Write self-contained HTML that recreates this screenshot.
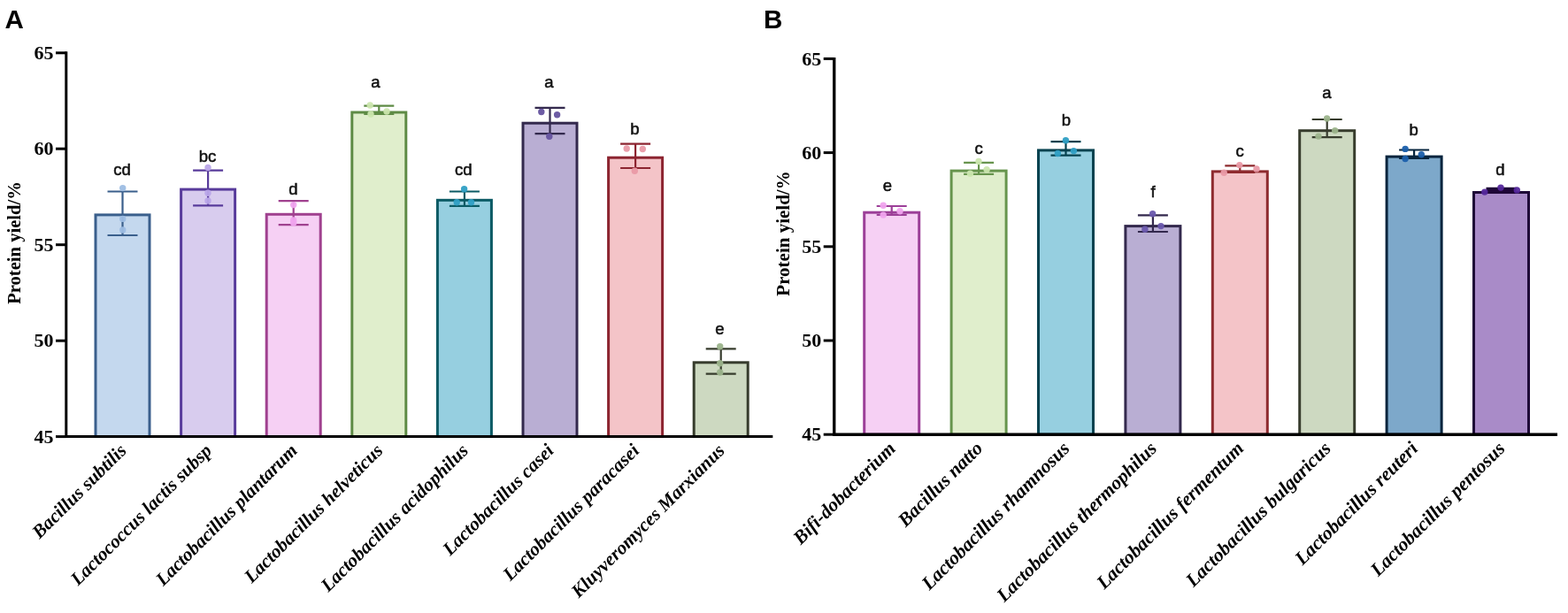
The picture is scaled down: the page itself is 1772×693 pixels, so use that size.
<!DOCTYPE html>
<html><head><meta charset="utf-8"><style>
html,body{margin:0;padding:0;background:#fff;}
svg{display:block;filter:blur(0.35px);}
</style></head><body>
<svg width="1772" height="693" viewBox="0 0 1772 693">
<rect width="1772" height="693" fill="#fff"/>
<text x="5.5" y="31.5" font-family="'Liberation Sans',Arial,sans-serif" font-weight="bold" font-size="29.5" fill="#000">A</text>
<text x="863" y="31.5" font-family="'Liberation Sans',Arial,sans-serif" font-weight="bold" font-size="29.5" fill="#000">B</text>
<rect x="108.0" y="242.9" width="61.0" height="250.7" fill="#c4d8ee" stroke="#3a5f8c" stroke-width="3"/>
<path d="M121.5 216.5H155.5M121.5 266.0H155.5M138.5 216.5V266.0" stroke="#3a5f8c" stroke-width="2.2" fill="none"/>
<circle cx="138.7" cy="212.6" r="3.7" fill="#9dbde3" fill-opacity="0.95"/>
<circle cx="138.7" cy="247.4" r="3.7" fill="#9dbde3" fill-opacity="0.95"/>
<circle cx="138.7" cy="260.0" r="3.7" fill="#9dbde3" fill-opacity="0.95"/>
<text x="138.0" y="198.0" text-anchor="middle" font-family="'Liberation Sans',Arial,sans-serif" font-size="18.5" fill="#111" stroke="#111" stroke-width="0.55">cd</text>
<text x="144.0" y="510.6" text-anchor="end" transform="rotate(-45 144.0 510.6)" font-family="'Liberation Serif','Times New Roman',serif" font-weight="bold" font-style="italic" font-size="21.3" fill="#000">Bacillus subtilis</text>
<rect x="204.6" y="214.1" width="61.0" height="279.5" fill="#d8ccee" stroke="#583b9b" stroke-width="3"/>
<path d="M218.1 192.7H252.1M218.1 232.3H252.1M235.1 192.7V232.3" stroke="#583b9b" stroke-width="2.2" fill="none"/>
<circle cx="235.0" cy="189.5" r="3.7" fill="#b9a5e8" fill-opacity="0.95"/>
<circle cx="235.0" cy="218.3" r="3.7" fill="#b9a5e8" fill-opacity="0.95"/>
<circle cx="235.0" cy="227.0" r="3.7" fill="#b9a5e8" fill-opacity="0.95"/>
<text x="234.6" y="183.0" text-anchor="middle" font-family="'Liberation Sans',Arial,sans-serif" font-size="18.5" fill="#111" stroke="#111" stroke-width="0.55">bc</text>
<text x="240.6" y="510.6" text-anchor="end" transform="rotate(-45 240.6 510.6)" font-family="'Liberation Serif','Times New Roman',serif" font-weight="bold" font-style="italic" font-size="21.3" fill="#000">Lactococcus lactis subsp</text>
<rect x="301.2" y="242.3" width="61.0" height="251.3" fill="#f6d0f4" stroke="#a0418f" stroke-width="3"/>
<path d="M314.7 227.2H348.7M314.7 254.2H348.7M331.7 227.2V254.2" stroke="#a0418f" stroke-width="2.2" fill="none"/>
<circle cx="331.7" cy="231.6" r="3.7" fill="#f0a4ee" fill-opacity="0.95"/>
<circle cx="331.7" cy="248.9" r="3.7" fill="#f0a4ee" fill-opacity="0.95"/>
<circle cx="331.7" cy="252.0" r="3.7" fill="#f0a4ee" fill-opacity="0.95"/>
<text x="331.5" y="219.6" text-anchor="middle" font-family="'Liberation Sans',Arial,sans-serif" font-size="18.5" fill="#111" stroke="#111" stroke-width="0.55">d</text>
<text x="337.2" y="510.6" text-anchor="end" transform="rotate(-45 337.2 510.6)" font-family="'Liberation Serif','Times New Roman',serif" font-weight="bold" font-style="italic" font-size="21.3" fill="#000">Lactobacillus plantarum</text>
<rect x="397.8" y="127.0" width="61.0" height="366.6" fill="#e0eecc" stroke="#5e8b45" stroke-width="3"/>
<path d="M411.3 119.7H445.3M411.3 129.0H445.3M428.3 119.7V129.0" stroke="#5e8b45" stroke-width="2.2" fill="none"/>
<circle cx="418.2" cy="119.0" r="3.7" fill="#cbe6ae" fill-opacity="0.95"/>
<circle cx="419.0" cy="129.0" r="3.7" fill="#cbe6ae" fill-opacity="0.95"/>
<circle cx="437.0" cy="126.0" r="3.7" fill="#cbe6ae" fill-opacity="0.95"/>
<text x="424.4" y="98.8" text-anchor="middle" font-family="'Liberation Sans',Arial,sans-serif" font-size="18.5" fill="#111" stroke="#111" stroke-width="0.55">a</text>
<text x="433.8" y="510.6" text-anchor="end" transform="rotate(-45 433.8 510.6)" font-family="'Liberation Serif','Times New Roman',serif" font-weight="bold" font-style="italic" font-size="21.3" fill="#000">Lactobacillus helveticus</text>
<rect x="494.4" y="226.3" width="61.0" height="267.3" fill="#96cfe0" stroke="#0a5a64" stroke-width="3"/>
<path d="M507.9 216.5H541.9M507.9 232.8H541.9M524.9 216.5V232.8" stroke="#0a5a64" stroke-width="2.2" fill="none"/>
<circle cx="524.6" cy="213.8" r="3.7" fill="#2f9fc4" fill-opacity="0.95"/>
<circle cx="516.2" cy="228.8" r="3.7" fill="#2f9fc4" fill-opacity="0.95"/>
<circle cx="532.5" cy="228.8" r="3.7" fill="#2f9fc4" fill-opacity="0.95"/>
<text x="523.7" y="198.0" text-anchor="middle" font-family="'Liberation Sans',Arial,sans-serif" font-size="18.5" fill="#111" stroke="#111" stroke-width="0.55">cd</text>
<text x="530.4" y="510.6" text-anchor="end" transform="rotate(-45 530.4 510.6)" font-family="'Liberation Serif','Times New Roman',serif" font-weight="bold" font-style="italic" font-size="21.3" fill="#000">Lactobacillus acidophilus</text>
<rect x="591.0" y="139.2" width="61.0" height="354.4" fill="#b9aed3" stroke="#33294d" stroke-width="3"/>
<path d="M604.5 121.8H638.5M604.5 151.1H638.5M621.5 121.8V151.1" stroke="#33294d" stroke-width="2.2" fill="none"/>
<circle cx="611.8" cy="126.5" r="3.7" fill="#65539f" fill-opacity="0.95"/>
<circle cx="629.6" cy="129.8" r="3.7" fill="#65539f" fill-opacity="0.95"/>
<circle cx="620.8" cy="154.3" r="3.7" fill="#65539f" fill-opacity="0.95"/>
<text x="620.5" y="98.8" text-anchor="middle" font-family="'Liberation Sans',Arial,sans-serif" font-size="18.5" fill="#111" stroke="#111" stroke-width="0.55">a</text>
<text x="627.0" y="510.6" text-anchor="end" transform="rotate(-45 627.0 510.6)" font-family="'Liberation Serif','Times New Roman',serif" font-weight="bold" font-style="italic" font-size="21.3" fill="#000">Lactobacillus casei</text>
<rect x="687.6" y="178.2" width="61.0" height="315.4" fill="#f4c4c8" stroke="#8c2430" stroke-width="3"/>
<path d="M701.1 162.6H735.1M701.1 190.0H735.1M718.1 162.6V190.0" stroke="#8c2430" stroke-width="2.2" fill="none"/>
<circle cx="708.2" cy="168.0" r="3.7" fill="#e99aa6" fill-opacity="0.95"/>
<circle cx="726.3" cy="168.5" r="3.7" fill="#e99aa6" fill-opacity="0.95"/>
<circle cx="717.3" cy="193.3" r="3.7" fill="#e99aa6" fill-opacity="0.95"/>
<text x="717.3" y="152.2" text-anchor="middle" font-family="'Liberation Sans',Arial,sans-serif" font-size="18.5" fill="#111" stroke="#111" stroke-width="0.55">b</text>
<text x="723.6" y="510.6" text-anchor="end" transform="rotate(-45 723.6 510.6)" font-family="'Liberation Serif','Times New Roman',serif" font-weight="bold" font-style="italic" font-size="21.3" fill="#000">Lactobacillus paracasei</text>
<rect x="784.2" y="409.8" width="61.0" height="83.8" fill="#cdd9c1" stroke="#373c2d" stroke-width="3"/>
<path d="M797.7 394.3H831.7M797.7 422.7H831.7M814.7 394.3V422.7" stroke="#373c2d" stroke-width="2.2" fill="none"/>
<circle cx="813.7" cy="391.7" r="3.7" fill="#9cb48c" fill-opacity="0.95"/>
<circle cx="813.7" cy="410.8" r="3.7" fill="#9cb48c" fill-opacity="0.95"/>
<circle cx="813.7" cy="421.0" r="3.7" fill="#9cb48c" fill-opacity="0.95"/>
<text x="813.5" y="377.7" text-anchor="middle" font-family="'Liberation Sans',Arial,sans-serif" font-size="18.5" fill="#111" stroke="#111" stroke-width="0.55">e</text>
<text x="820.2" y="510.6" text-anchor="end" transform="rotate(-45 820.2 510.6)" font-family="'Liberation Serif','Times New Roman',serif" font-weight="bold" font-style="italic" font-size="21.3" fill="#000">Kluyveromyces Marxianus</text>
<path d="M74.8 58.3V495.1M73.3 493.6H873.3" stroke="#000" stroke-width="3.0" fill="none"/>
<path d="M63.0 59.8H74.8" stroke="#000" stroke-width="3" fill="none"/>
<text x="60.6" y="67.0" text-anchor="end" font-family="'Liberation Serif','Times New Roman',serif" font-weight="bold" font-size="22" fill="#000">65</text>
<path d="M63.0 168.2H74.8" stroke="#000" stroke-width="3" fill="none"/>
<text x="60.6" y="175.4" text-anchor="end" font-family="'Liberation Serif','Times New Roman',serif" font-weight="bold" font-size="22" fill="#000">60</text>
<path d="M63.0 276.7H74.8" stroke="#000" stroke-width="3" fill="none"/>
<text x="60.6" y="283.9" text-anchor="end" font-family="'Liberation Serif','Times New Roman',serif" font-weight="bold" font-size="22" fill="#000">55</text>
<path d="M63.0 385.2H74.8" stroke="#000" stroke-width="3" fill="none"/>
<text x="60.6" y="392.4" text-anchor="end" font-family="'Liberation Serif','Times New Roman',serif" font-weight="bold" font-size="22" fill="#000">50</text>
<path d="M63.0 493.6H74.8" stroke="#000" stroke-width="3" fill="none"/>
<text x="60.6" y="500.8" text-anchor="end" font-family="'Liberation Serif','Times New Roman',serif" font-weight="bold" font-size="22" fill="#000">45</text>
<text x="23.0" y="274.5" text-anchor="middle" transform="rotate(-90 23.0 274.5)" font-family="'Liberation Serif','Times New Roman',serif" font-weight="bold" font-size="20.6" fill="#000">Protein yield/%</text>
<rect x="976.7" y="240.2" width="62.0" height="251.0" fill="#f6d0f4" stroke="#9c3f98" stroke-width="3"/>
<path d="M990.7 233.0H1024.7M990.7 243.0H1024.7M1007.7 233.0V243.0" stroke="#9c3f98" stroke-width="2.2" fill="none"/>
<circle cx="998.2" cy="232.2" r="3.7" fill="#f0a4ee" fill-opacity="0.95"/>
<circle cx="998.2" cy="243.1" r="3.7" fill="#f0a4ee" fill-opacity="0.95"/>
<circle cx="1017.0" cy="238.7" r="3.7" fill="#f0a4ee" fill-opacity="0.95"/>
<text x="1002.9" y="216.4" text-anchor="middle" font-family="'Liberation Sans',Arial,sans-serif" font-size="18.5" fill="#111" stroke="#111" stroke-width="0.55">e</text>
<text x="1013.2" y="508.2" text-anchor="end" transform="rotate(-45 1013.2 508.2)" font-family="'Liberation Serif','Times New Roman',serif" font-weight="bold" font-style="italic" font-size="21.7" fill="#000">Bifi-dobacterium</text>
<rect x="1075.1" y="193.1" width="62.0" height="298.1" fill="#e0eecc" stroke="#67944d" stroke-width="3"/>
<path d="M1089.1 183.9H1123.1M1089.1 196.9H1123.1M1106.1 183.9V196.9" stroke="#67944d" stroke-width="2.2" fill="none"/>
<circle cx="1106.0" cy="182.5" r="3.7" fill="#cbe6ae" fill-opacity="0.95"/>
<circle cx="1096.4" cy="196.2" r="3.7" fill="#cbe6ae" fill-opacity="0.95"/>
<circle cx="1115.1" cy="191.8" r="3.7" fill="#cbe6ae" fill-opacity="0.95"/>
<text x="1106.2" y="173.8" text-anchor="middle" font-family="'Liberation Sans',Arial,sans-serif" font-size="18.5" fill="#111" stroke="#111" stroke-width="0.55">c</text>
<text x="1111.6" y="508.2" text-anchor="end" transform="rotate(-45 1111.6 508.2)" font-family="'Liberation Serif','Times New Roman',serif" font-weight="bold" font-style="italic" font-size="21.7" fill="#000">Bacillus natto</text>
<rect x="1173.5" y="169.9" width="62.0" height="321.3" fill="#96cfe0" stroke="#06424f" stroke-width="3"/>
<path d="M1187.5 160.2H1221.5M1187.5 175.7H1221.5M1204.5 160.2V175.7" stroke="#06424f" stroke-width="2.2" fill="none"/>
<circle cx="1204.4" cy="158.8" r="3.7" fill="#2f9fc4" fill-opacity="0.95"/>
<circle cx="1195.4" cy="173.5" r="3.7" fill="#2f9fc4" fill-opacity="0.95"/>
<circle cx="1213.4" cy="170.6" r="3.7" fill="#2f9fc4" fill-opacity="0.95"/>
<text x="1205.0" y="141.7" text-anchor="middle" font-family="'Liberation Sans',Arial,sans-serif" font-size="18.5" fill="#111" stroke="#111" stroke-width="0.55">b</text>
<text x="1210.0" y="508.2" text-anchor="end" transform="rotate(-45 1210.0 508.2)" font-family="'Liberation Serif','Times New Roman',serif" font-weight="bold" font-style="italic" font-size="21.7" fill="#000">Lactobacillus rhamnosus</text>
<rect x="1271.9" y="255.6" width="62.0" height="235.6" fill="#b9aed3" stroke="#33294d" stroke-width="3"/>
<path d="M1285.9 243.3H1319.9M1285.9 262.0H1319.9M1302.9 243.3V262.0" stroke="#33294d" stroke-width="2.2" fill="none"/>
<circle cx="1302.6" cy="241.8" r="3.7" fill="#6a58ad" fill-opacity="0.95"/>
<circle cx="1312.0" cy="255.6" r="3.7" fill="#6a58ad" fill-opacity="0.95"/>
<circle cx="1293.9" cy="259.2" r="3.7" fill="#6a58ad" fill-opacity="0.95"/>
<text x="1303.0" y="223.1" text-anchor="middle" font-family="'Liberation Sans',Arial,sans-serif" font-size="18.5" fill="#111" stroke="#111" stroke-width="0.55">f</text>
<text x="1308.4" y="508.2" text-anchor="end" transform="rotate(-45 1308.4 508.2)" font-family="'Liberation Serif','Times New Roman',serif" font-weight="bold" font-style="italic" font-size="21.7" fill="#000">Lactobacillus thermophilus</text>
<rect x="1370.3" y="193.9" width="62.0" height="297.3" fill="#f4c4c8" stroke="#8e2a2e" stroke-width="3"/>
<path d="M1384.3 187.3H1418.3M1384.3 195.0H1418.3M1401.3 187.3V195.0" stroke="#8e2a2e" stroke-width="2.2" fill="none"/>
<circle cx="1400.8" cy="186.6" r="3.7" fill="#e99aa6" fill-opacity="0.95"/>
<circle cx="1383.2" cy="195.2" r="3.7" fill="#e99aa6" fill-opacity="0.95"/>
<circle cx="1420.0" cy="190.9" r="3.7" fill="#e99aa6" fill-opacity="0.95"/>
<text x="1401.2" y="176.5" text-anchor="middle" font-family="'Liberation Sans',Arial,sans-serif" font-size="18.5" fill="#111" stroke="#111" stroke-width="0.55">c</text>
<text x="1406.8" y="508.2" text-anchor="end" transform="rotate(-45 1406.8 508.2)" font-family="'Liberation Serif','Times New Roman',serif" font-weight="bold" font-style="italic" font-size="21.7" fill="#000">Lactobacillus fermentum</text>
<rect x="1468.7" y="147.7" width="62.0" height="343.5" fill="#cdd9c1" stroke="#373c2d" stroke-width="3"/>
<path d="M1482.7 135.0H1516.7M1482.7 155.1H1516.7M1499.7 135.0V155.1" stroke="#373c2d" stroke-width="2.2" fill="none"/>
<circle cx="1499.6" cy="133.9" r="3.7" fill="#9cb48c" fill-opacity="0.95"/>
<circle cx="1508.7" cy="147.6" r="3.7" fill="#9cb48c" fill-opacity="0.95"/>
<circle cx="1490.0" cy="154.1" r="3.7" fill="#9cb48c" fill-opacity="0.95"/>
<text x="1499.5" y="111.3" text-anchor="middle" font-family="'Liberation Sans',Arial,sans-serif" font-size="18.5" fill="#111" stroke="#111" stroke-width="0.55">a</text>
<text x="1505.2" y="508.2" text-anchor="end" transform="rotate(-45 1505.2 508.2)" font-family="'Liberation Serif','Times New Roman',serif" font-weight="bold" font-style="italic" font-size="21.7" fill="#000">Lactobacillus bulgaricus</text>
<rect x="1567.1" y="177.1" width="62.0" height="314.1" fill="#7da8ca" stroke="#06243d" stroke-width="3"/>
<path d="M1581.1 169.5H1615.1M1581.1 179.0H1615.1M1598.1 169.5V179.0" stroke="#06243d" stroke-width="2.2" fill="none"/>
<circle cx="1588.1" cy="168.4" r="3.7" fill="#1b5fab" fill-opacity="0.95"/>
<circle cx="1588.1" cy="179.5" r="3.7" fill="#1b5fab" fill-opacity="0.95"/>
<circle cx="1606.3" cy="174.8" r="3.7" fill="#1b5fab" fill-opacity="0.95"/>
<text x="1597.6" y="153.3" text-anchor="middle" font-family="'Liberation Sans',Arial,sans-serif" font-size="18.5" fill="#111" stroke="#111" stroke-width="0.55">b</text>
<text x="1603.6" y="508.2" text-anchor="end" transform="rotate(-45 1603.6 508.2)" font-family="'Liberation Serif','Times New Roman',serif" font-weight="bold" font-style="italic" font-size="21.7" fill="#000">Lactobacillus reuteri</text>
<rect x="1665.5" y="217.5" width="62.0" height="273.7" fill="#a98bc8" stroke="#1e0637" stroke-width="3"/>
<path d="M1679.5 212.9H1713.5M1679.5 215.0H1713.5M1696.5 212.9V215.0" stroke="#1e0637" stroke-width="2.2" fill="none"/>
<circle cx="1677.8" cy="217.1" r="3.7" fill="#55289c" fill-opacity="0.95"/>
<circle cx="1696.0" cy="212.1" r="3.7" fill="#55289c" fill-opacity="0.95"/>
<circle cx="1714.3" cy="214.9" r="3.7" fill="#55289c" fill-opacity="0.95"/>
<text x="1695.5" y="198.0" text-anchor="middle" font-family="'Liberation Sans',Arial,sans-serif" font-size="18.5" fill="#111" stroke="#111" stroke-width="0.55">d</text>
<text x="1702.0" y="508.2" text-anchor="end" transform="rotate(-45 1702.0 508.2)" font-family="'Liberation Serif','Times New Roman',serif" font-weight="bold" font-style="italic" font-size="21.7" fill="#000">Lactobacillus pentosus</text>
<path d="M942.7 64.9V492.7M941.0 491.2H1760.0" stroke="#000" stroke-width="3.4" fill="none"/>
<path d="M930.7 66.4H942.7" stroke="#000" stroke-width="3" fill="none"/>
<text x="928.3" y="73.6" text-anchor="end" font-family="'Liberation Serif','Times New Roman',serif" font-weight="bold" font-size="22" fill="#000">65</text>
<path d="M930.7 172.6H942.7" stroke="#000" stroke-width="3" fill="none"/>
<text x="928.3" y="179.8" text-anchor="end" font-family="'Liberation Serif','Times New Roman',serif" font-weight="bold" font-size="22" fill="#000">60</text>
<path d="M930.7 278.8H942.7" stroke="#000" stroke-width="3" fill="none"/>
<text x="928.3" y="286.0" text-anchor="end" font-family="'Liberation Serif','Times New Roman',serif" font-weight="bold" font-size="22" fill="#000">55</text>
<path d="M930.7 385.0H942.7" stroke="#000" stroke-width="3" fill="none"/>
<text x="928.3" y="392.2" text-anchor="end" font-family="'Liberation Serif','Times New Roman',serif" font-weight="bold" font-size="22" fill="#000">50</text>
<path d="M930.7 491.2H942.7" stroke="#000" stroke-width="3" fill="none"/>
<text x="928.3" y="498.4" text-anchor="end" font-family="'Liberation Serif','Times New Roman',serif" font-weight="bold" font-size="22" fill="#000">45</text>
<text x="892.0" y="264.0" text-anchor="middle" transform="rotate(-90 892.0 264.0)" font-family="'Liberation Serif','Times New Roman',serif" font-weight="bold" font-size="21" fill="#000">Protein yield/%</text>
</svg>
</body></html>
